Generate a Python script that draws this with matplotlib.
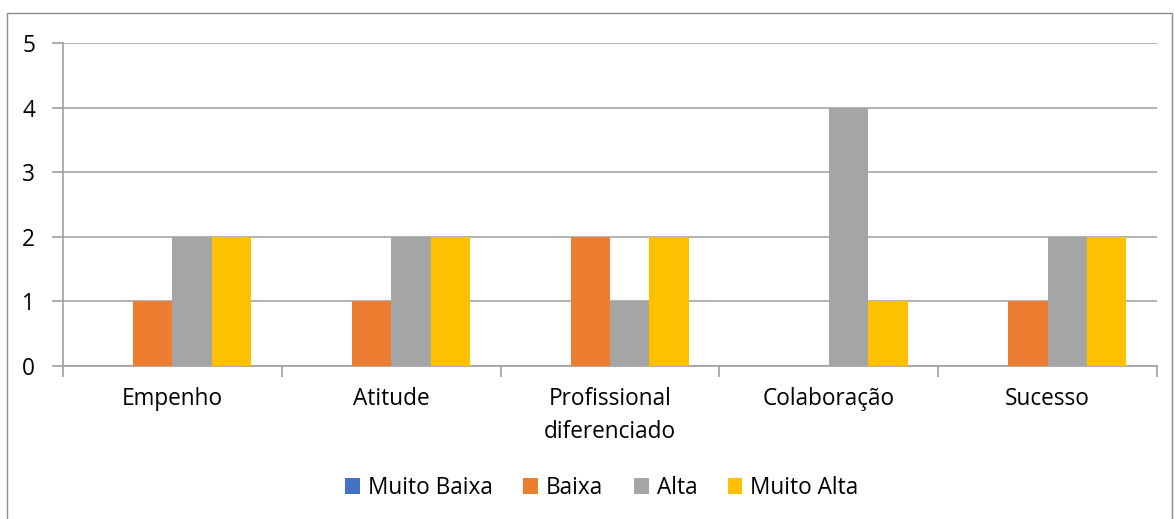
import numpy as np
import matplotlib
matplotlib.use("Agg")
import matplotlib.pyplot as plt
from matplotlib.patches import Rectangle
from matplotlib.transforms import blended_transform_factory

categories = ["Empenho", "Atitude", "Profissional\ndiferenciado", "Colaboração", "Sucesso"]
series_names = ["Muito Baixa", "Baixa", "Alta", "Muito Alta"]
muito_baixa = [0, 0, 0, 0, 0]
baixa = [1, 1, 2, 0, 1]
alta = [2, 2, 1, 4, 2]
muito_alta = [2, 2, 2, 1, 2]
colors = ["#4472C4", "#ED7D31", "#A5A5A5", "#FFC000"]

plt.rcParams['font.family'] = ['Open Sans', 'DejaVu Sans']
fs = 16.3

fig = plt.figure(figsize=(11.74, 5.19), dpi=100)
ax = fig.add_axes([63/1174, 1 - 366/519, (1157 - 63)/1174, (366 - 43)/519])

x = np.arange(len(categories))
width = 0.18
values = [muito_baixa, baixa, alta, muito_alta]
for i, (name, vals) in enumerate(zip(series_names, values)):
    ax.bar(x + (i - 1.5) * width, vals, width, color=colors[i], label=name, zorder=3)

ax.set_xlim(-0.5, len(categories) - 0.5)
ax.set_ylim(0, 5)
ax.set_yticks(range(6))
ax.yaxis.grid(True, color="#a6a6a6", lw=1.2, zorder=0)
for s in ["top", "right"]:
    ax.spines[s].set_visible(False)
for s in ["left", "bottom"]:
    ax.spines[s].set_color("#a0a0a0")
    ax.spines[s].set_linewidth(1.2)

ax.set_xticks(np.arange(-0.5, len(categories)))
ax.set_xticklabels([])
ax.tick_params(axis="x", length=8, color="#a0a0a0", width=1.2)
ax.tick_params(axis="y", length=8, color="#a0a0a0", width=1.2, labelsize=fs, pad=12)

trans = blended_transform_factory(ax.transData, fig.transFigure)
for i, c in enumerate(categories):
    ax.text(i, 1 - 387/519, c, ha="center", va="top", fontsize=fs, linespacing=1.5,
            transform=trans)

fig.legend(loc="center", bbox_to_anchor=(602/1174, 1 - 488/519), ncol=4, frameon=False,
           fontsize=fs, handlelength=0.65, handleheight=0.65, handletextpad=0.35,
           columnspacing=1.35)

fig.patches.append(Rectangle((7/1174, -0.05), (1172 - 7)/1174, 1.05 - 13/519,
                             transform=fig.transFigure, fill=False,
                             edgecolor="#8c8c8c", lw=1.0))

fig.savefig("out.png", dpi=100)
